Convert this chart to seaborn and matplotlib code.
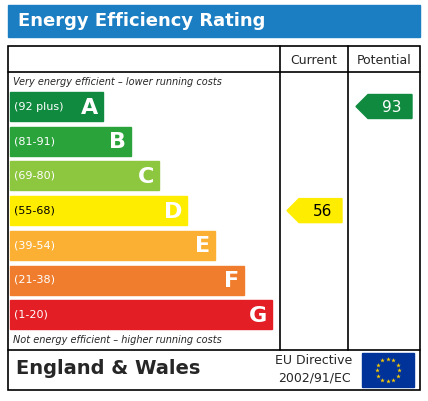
import matplotlib
matplotlib.use("Agg")
import matplotlib.pyplot as plt
import seaborn as sns
from matplotlib.patches import Rectangle, Polygon
import numpy as np

sns.set_theme(style="white")
plt.rcParams['font.family'] = ['DejaVu Sans']

bands = ["A", "B", "C", "D", "E", "F", "G"]
ranges = ["(92 plus)", "(81-91)", "(69-80)", "(55-68)", "(39-54)", "(21-38)", "(1-20)"]
colors = ["#0f8a3f", "#2aa33a", "#8dc63f", "#ffed00", "#fbb034", "#ef7d2d", "#e31e25"]
bar_right = [103, 131, 159, 187, 215, 244, 272]
current = 56
potential = 93
current_band = "D"
potential_band = "A"

W, H = 428, 401
fig = plt.figure(figsize=(W/100, H/100), dpi=100)
ax = fig.add_axes([0, 0, 1, 1])
ax.set_xlim(0, W); ax.set_ylim(H, 0); ax.axis("off")

# title
ax.add_patch(Rectangle((8, 5), 412, 32, color="#1b7dc2"))
ax.text(18, 21, "Energy Efficiency Rating", color="white", fontsize=13, fontweight="bold", va="center")

# frame
lw = 1.2
ax.add_patch(Rectangle((8, 46), 412, 344, fill=False, ec="black", lw=lw))
ax.plot([8, 420], [72, 72], color="black", lw=lw)
ax.plot([8, 420], [350, 350], color="black", lw=lw)
for x in (280, 348):
    ax.plot([x, x], [46, 350], color="black", lw=lw)
ax.text(314, 60, "Current", ha="center", va="center", fontsize=9)
ax.text(384, 60, "Potential", ha="center", va="center", fontsize=9)
ax.text(13, 82, "Very energy efficient \u2013 lower running costs", fontsize=7, style="italic", va="center")
ax.text(13, 340, "Not energy efficient \u2013 higher running costs", fontsize=7, style="italic", va="center")

top0, step, bh = 92, 34.7, 29
ys = {}
for i, (b, r, c, xr) in enumerate(zip(bands, ranges, colors, bar_right)):
    y = top0 + i * step
    ys[b] = y
    ax.add_patch(Rectangle((10, y), xr - 10, bh, color=c))
    tc = "black" if b == "D" else "white"
    ax.text(14, y + bh/2, r, fontsize=8, color=tc, va="center")
    ax.text(xr - 5, y + bh/2 + 1, b, fontsize=16, fontweight="bold", color="white", ha="right", va="center")

def arrow(x0, x1, y, c, val, tc):
    pts = [(x0, y + bh/2), (x0 + 12, y + 2), (x1, y + 2), (x1, y + bh - 4 + 2), (x0 + 12, y + bh - 2)]
    yc = y + bh/2
    pts = [(x0, yc), (x0 + 12, yc - 12), (x1, yc - 12), (x1, yc + 12), (x0 + 12, yc + 12)]
    ax.add_patch(Polygon(pts, color=c))
    ax.text((x0 + 12 + x1) / 2 + 2, yc + 1, str(val), fontsize=11, color=tc, ha="center", va="center")

arrow(287, 342, ys[current_band], colors[bands.index(current_band)], current, "black")
arrow(356, 412, ys[potential_band], colors[bands.index(potential_band)], potential, "white")

ax.text(16, 369, "England & Wales", fontsize=14, fontweight="bold", va="center")
ax.text(314, 361, "EU Directive", fontsize=9, ha="center", va="center")
ax.text(314, 378, "2002/91/EC", fontsize=9, ha="center", va="center")
ax.add_patch(Rectangle((362, 353), 52, 34, color="#003399"))
ang = np.linspace(0, 2*np.pi, 12, endpoint=False)
ax.scatter(388 + 11*np.cos(ang), 370 + 11*np.sin(ang), marker="*", s=12, color="#ffcc00", lw=0)

fig.savefig("out.png", dpi=100)
